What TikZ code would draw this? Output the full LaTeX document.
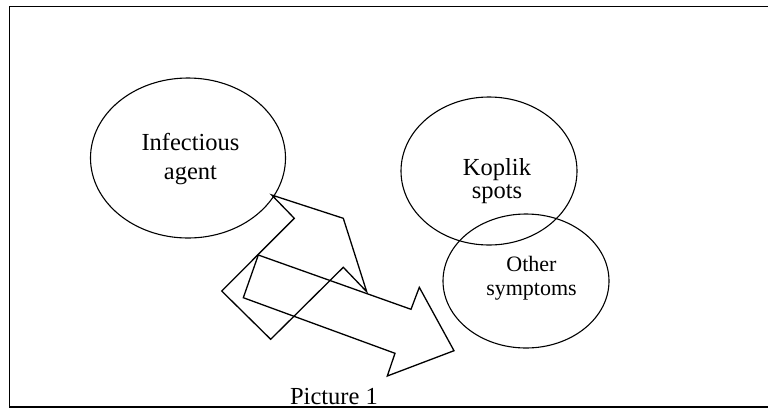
\documentclass[tikz,border=0pt]{standalone}
\usepackage{fontspec}
\setmainfont{Liberation Serif}
\usetikzlibrary{shapes.geometric}
\begin{document}
\begin{tikzpicture}[x=1pt,y=-1pt,
  bubble/.style={draw, ellipse, line width=1.1pt, inner sep=0pt},
  txt/.style={align=center, inner sep=0pt},
  blockarrow/.style={draw, line width=1.3pt, line join=miter}]
\useasboundingbox (0,0) rectangle (768,408);
\clip (0,0) rectangle (768,408);
% frame
\draw[line width=1.6pt] (9.5,6.5) rectangle (790,406.7);
% ellipses
\node[bubble, minimum width=195pt, minimum height=160pt] (inf) at (188,158) {};
\node[bubble, minimum width=176pt, minimum height=148pt] (kop) at (489,171) {};
\node[bubble, minimum width=166pt, minimum height=134pt] (oth) at (526,281) {};
% texts
\node[txt, font={\fontsize{24.5}{29.3}\selectfont}] (tinf) at (190.5,159) {Infectious\\agent};
\node[txt, font={\fontsize{24.5}{23}\selectfont}] (tkop) at (497,180.8) {Koplik\\spots};
\node[txt, font={\fontsize{22}{23.3}\selectfont}] (toth) at (531.5,278.3) {Other\\symptoms};
\node[inner sep=0pt, anchor=base, font={\fontsize{24.5}{29}\selectfont}] (cap) at (334,404) {Picture 1};
% block arrow 1
\coordinate (a1) at (271.7,195);
\coordinate (a2) at (343.3,218.3);
\coordinate (a3) at (366.7,291.7);
\coordinate (a4) at (343.3,267.3);
\coordinate (a5) at (270.7,339.3);
\coordinate (a6) at (221.7,291);
\coordinate (a7) at (294.3,218.3);
\draw[blockarrow] (a1) -- (a2) -- (a3) -- (a4) -- (a5) -- (a6) -- (a7) -- cycle;
% block arrow 2
\coordinate (b1) at (258.3,255);
\coordinate (b2) at (411,309.3);
\coordinate (b3) at (419.3,287.3);
\coordinate (b4) at (454,350.7);
\coordinate (b5) at (387.3,376);
\coordinate (b6) at (395,353.3);
\coordinate (b7) at (243.3,297.7);
\draw[blockarrow] (b1) -- (b2) -- (b3) -- (b4) -- (b5) -- (b6) -- (b7) -- cycle;
\end{tikzpicture}
\end{document}
